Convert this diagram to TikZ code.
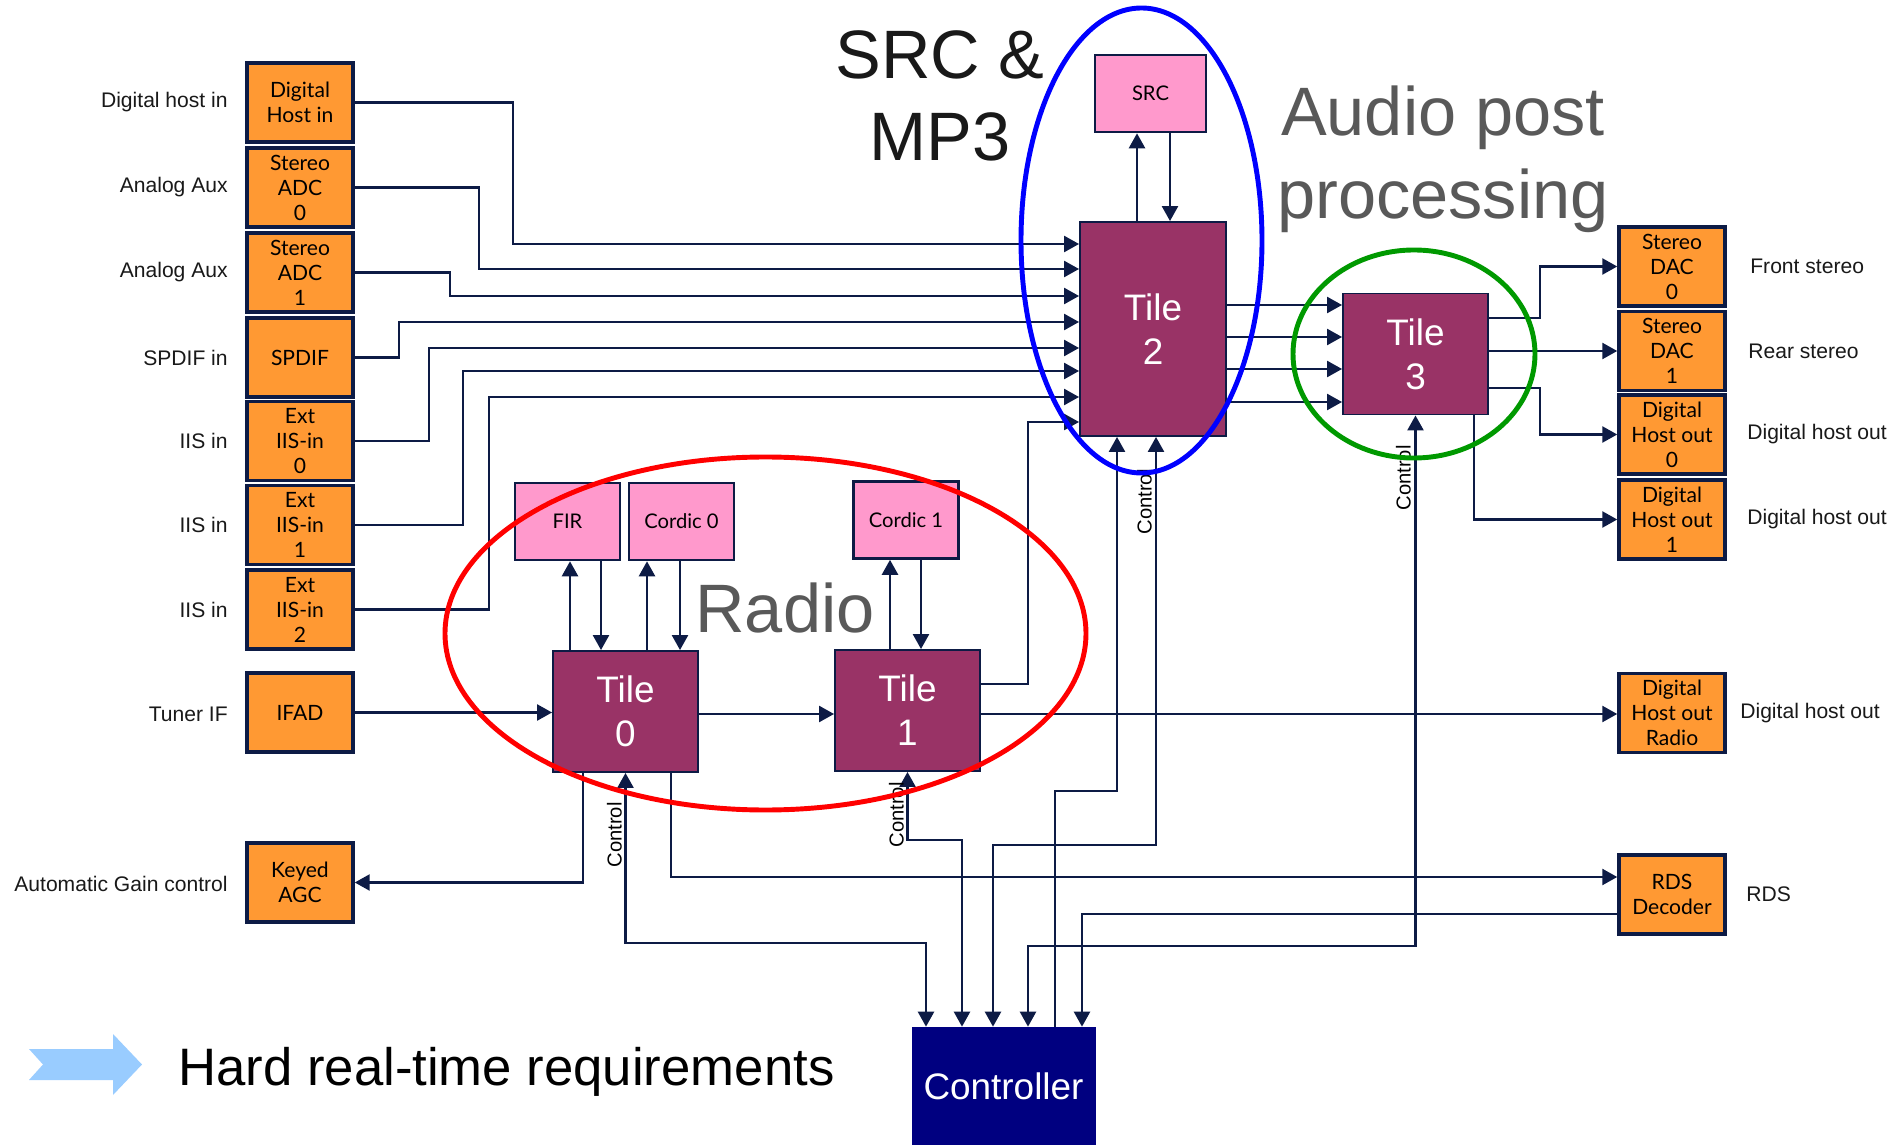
\documentclass[tikz,border=0pt]{standalone}
\usepackage{fontspec}
\setmainfont{Liberation Sans}
\newfontfamily\gillfont{Lato}
\usepackage{tikz}
\usetikzlibrary{arrows.meta,positioning,calc}

\definecolor{wirenavy}{HTML}{0D1B45}
\definecolor{boxorange}{HTML}{FF9933}
\definecolor{boxpink}{HTML}{FF99CC}
\definecolor{tilepurple}{HTML}{993366}
\definecolor{ctrlnavy}{HTML}{000080}
\definecolor{headgray}{HTML}{595959}
\definecolor{chevblue}{HTML}{99CCFF}
\definecolor{ringgreen}{HTML}{009900}

\begin{document}
\begin{tikzpicture}[
    x=0.02cm, y=-0.02cm,
    io/.style={draw=wirenavy, line width=2pt, fill=boxorange, minimum width=2.12cm, minimum height=1.58cm, inner sep=0pt, align=center, font=\gillfont\fontsize{12}{14.2}\selectfont},
    acc/.style={draw=wirenavy, line width=1.5pt, fill=boxpink, minimum width=2.1cm, minimum height=1.54cm, inner sep=0pt, align=center, font=\gillfont\fontsize{11.5}{14}\selectfont},
    tile/.style={draw=wirenavy, line width=1.1pt, fill=tilepurple, text=white, minimum width=2.9cm, minimum height=2.42cm, inner sep=0pt, align=center, font=\fontsize{21}{25}\selectfont},
    lbl/.style={font=\fontsize{12}{14}\selectfont, text=black!90, inner sep=0pt},
    ctl/.style={font=\fontsize{11.5}{13}\selectfont, rotate=90, inner sep=1pt, anchor=south},
    head/.style={font=\fontsize{39}{47}\selectfont, align=center, inner sep=0pt},
    wire/.style={draw=wirenavy, line width=1.4pt},
    sig/.style={wire, -{Triangle[length=3mm,width=3.2mm]}},
    bisig/.style={wire, {Triangle[length=3mm,width=3.2mm]}-{Triangle[length=3mm,width=3.2mm]}},
    ring/.style={line width=2.8pt}
]
\path[use as bounding box, fill=white] (0,0) rectangle (1901,1145);

% Inputs
\node[io] (dhi) at (300,102.5) {Digital\\Host in};
\node[io] (adc0) at (300,187.5) {Stereo\\ADC\\0};
\node[io] (adc1) at (300,272.5) {Stereo\\ADC\\1};
\node[io] (spdif) at (300,357.5) {SPDIF};
\node[io] (iis0) at (300,441) {Ext\\IIS-in\\0};
\node[io] (iis1) at (300,525) {Ext\\IIS-in\\1};
\node[io] (iis2) at (300,609.5) {Ext\\IIS-in\\2};
\node[io] (ifad) at (300,712.5) {IFAD};
\node[io] (agc) at (300,882.5) {Keyed\\AGC};
\node[lbl, anchor=east] (ldhi) at (228,102.5) {Digital host in};
\node[lbl, anchor=east] (ladc0) at (228,187.5) {Analog Aux};
\node[lbl, anchor=east] (ladc1) at (228,272.5) {Analog Aux};
\node[lbl, anchor=east] (lspdif) at (228,357.5) {SPDIF in};
\node[lbl, anchor=east] (liis0) at (228,441) {IIS in};
\node[lbl, anchor=east] (liis1) at (228,525) {IIS in};
\node[lbl, anchor=east] (liis2) at (228,609.5) {IIS in};
\node[lbl, anchor=east] (lifad) at (228,714) {Tuner IF};
\node[lbl, anchor=east] (lagc) at (228,884) {Automatic Gain control};

% Outputs
\node[io] (dac0) at (1672,266.5) {Stereo\\DAC\\0};
\node[io] (dac1) at (1672,351) {Stereo\\DAC\\1};
\node[io] (ho0) at (1672,434.5) {Digital\\Host out\\0};
\node[io] (ho1) at (1672,519.5) {Digital\\Host out\\1};
\node[io] (hor) at (1672,713) {Digital\\Host out\\Radio};
\node[io] (rds) at (1672,894.5) {RDS\\Decoder};
\node[lbl, anchor=west] (ldac0) at (1750,266.5) {Front stereo};
\node[lbl, anchor=west] (ldac1) at (1748,351) {Rear stereo};
\node[lbl, anchor=west] (lho0) at (1747,434.5) {Digital host out};
\node[lbl, anchor=west] (lho1) at (1747,519.5) {Digital host out};
\node[lbl, anchor=west] (lhor) at (1740,713) {Digital host out};
\node[lbl, anchor=west] (lrds) at (1746,894.5) {RDS};

% Tiles and accelerators
\node[tile] (t0) at (625.5,711.5) {Tile\\0};
\node[tile] (t1) at (907.5,710.5) {Tile\\1};
\node[tile, minimum width=2.92cm, minimum height=4.28cm] (t2) at (1153,329) {Tile\\2};
\node[tile] (t3) at (1415.5,354) {Tile\\3};
\node[acc] (fir) at (567.5,521.5) {FIR};
\node[acc] (cor0) at (681.5,521.5) {Cordic 0};
\node[acc] (cor1) at (906,520) {Cordic 1};
\node[acc, minimum width=2.22cm] (src) at (1150.5,93.5) {SRC};
\node[draw=ctrlnavy, fill=ctrlnavy, text=white, minimum width=3.66cm, minimum height=2.36cm, inner sep=0pt, font=\fontsize{21}{25}\selectfont] (ctrl) at (1003.5,1086) {Controller};

% Into tile 2
\draw[sig] (dhi.east) -| (513,244) -- (t2.west |- 513,244);
\draw[sig] (adc0.east) -| (479,269) -- (t2.west |- 479,269);
\draw[sig] (adc1.east) -| (450,296) -- (t2.west |- 450,296);
\draw[sig] (spdif.east) -| (399,322) -- (t2.west |- 399,322);
\draw[sig] (iis0.east) -| (429,348) -- (t2.west |- 429,348);
\draw[sig] (iis1.east) -| (463,371) -- (t2.west |- 463,371);
\draw[sig] (iis2.east) -| (489,397) -- (t2.west |- 489,397);
\draw[sig] (t1.east |- 0,684) -| (1028,422) -- (t2.west |- 1028,422);
\draw[sig] (t2.north -| 1137,0) -- (src.south -| 1137,0);
\draw[sig] (src.south -| 1170,0) -- (t2.north -| 1170,0);

% Tile 2 to tile 3 and out
\draw[sig] (t2.east |- 0,305) -- (t3.west |- 0,305);
\draw[sig] (t2.east |- 0,337) -- (t3.west |- 0,337);
\draw[sig] (t2.east |- 0,369) -- (t3.west |- 0,369);
\draw[sig] (t2.east |- 0,402) -- (t3.west |- 0,402);
\draw[sig] (t3.east |- 0,318) -| (1540,266.5) -- (dac0.west);
\draw[sig] (t3.east |- 0,351) -- (dac1.west);
\draw[sig] (t3.east |- 0,388) -| (1540,434.5) -- (ho0.west);
\draw[sig] (t3.south -| 1474,0) |- (ho1.west);

% Radio
\draw[sig] (ifad.east) -- (t0.west |- ifad.east);
\draw[sig] (t0.north -| 570,0) -- (fir.south -| 570,0);
\draw[sig] (fir.south -| 601,0) -- (t0.north -| 601,0);
\draw[sig] (t0.north -| 647,0) -- (cor0.south -| 647,0);
\draw[sig] (cor0.south -| 680,0) -- (t0.north -| 680,0);
\draw[sig] (t1.north -| 890,0) -- (cor1.south -| 890,0);
\draw[sig] (cor1.south -| 921,0) -- (t1.north -| 921,0);
\draw[sig] (t0.east |- 0,714) -- (t1.west |- 0,714);
\draw[sig] (t1.east |- 0,714) -- (hor.west |- 0,714);
\draw[sig] (t0.south -| 583,0) |- (agc.east);
\draw[sig] (t0.south -| 671,0) |- (rds.west |- 0,877);
\draw[sig] (rds.west |- 0,914) -| (ctrl.north -| 1082,0);

% Control
\draw[bisig] (t0.south) |- (926,943) -- (ctrl.north -| 926,0);
\draw[bisig] (t1.south) |- (962,840) -- (ctrl.north -| 962,0);
\draw[sig] (ctrl.north -| 1055,0) |- (1117,791) -- (t2.south -| 1117,0);
\draw[bisig] (t2.south -| 1156,0) |- (993,845) -- (ctrl.north -| 993,0);
\draw[bisig] (t3.south) |- (1028,946) -- (ctrl.north -| 1028,0);
\node[ctl] (c0) at (624,835) {Control};
\node[ctl] (c1) at (906,815) {Control};
\node[ctl] (c2) at (1154,502) {Control};
\node[ctl] (c3) at (1413,478) {Control};

% Headlines
\node[head, text=black!90] (srchead) at (940,96) {SRC \&\\MP3};
\node[head, text=headgray] (posthead) at (1443,159.5) {Audio post\\processing};
\node[head, text=headgray, anchor=base] (radiohead) at (785,632) {Radio};
\fill[chevblue] (29,1049) -- (113,1049) -- (113,1034) -- (142,1064.5) -- (113,1095) -- (113,1080) -- (29,1080) -- (43,1064.5) -- cycle;
\node[font=\fontsize{30}{36}\selectfont, anchor=base west, inner sep=0pt] (rtnote) at (178,1085) {Hard real-time requirements};

% Groups
\draw[red, ring] (765.5,633.5) ellipse [x radius=320.5, y radius=176.5];
\draw[blue, ring] (1141.5,240.5) ellipse [x radius=120.5, y radius=232.5];
\draw[ringgreen, ring] (1414,354) ellipse [x radius=121, y radius=104];
\end{tikzpicture}
\end{document}
